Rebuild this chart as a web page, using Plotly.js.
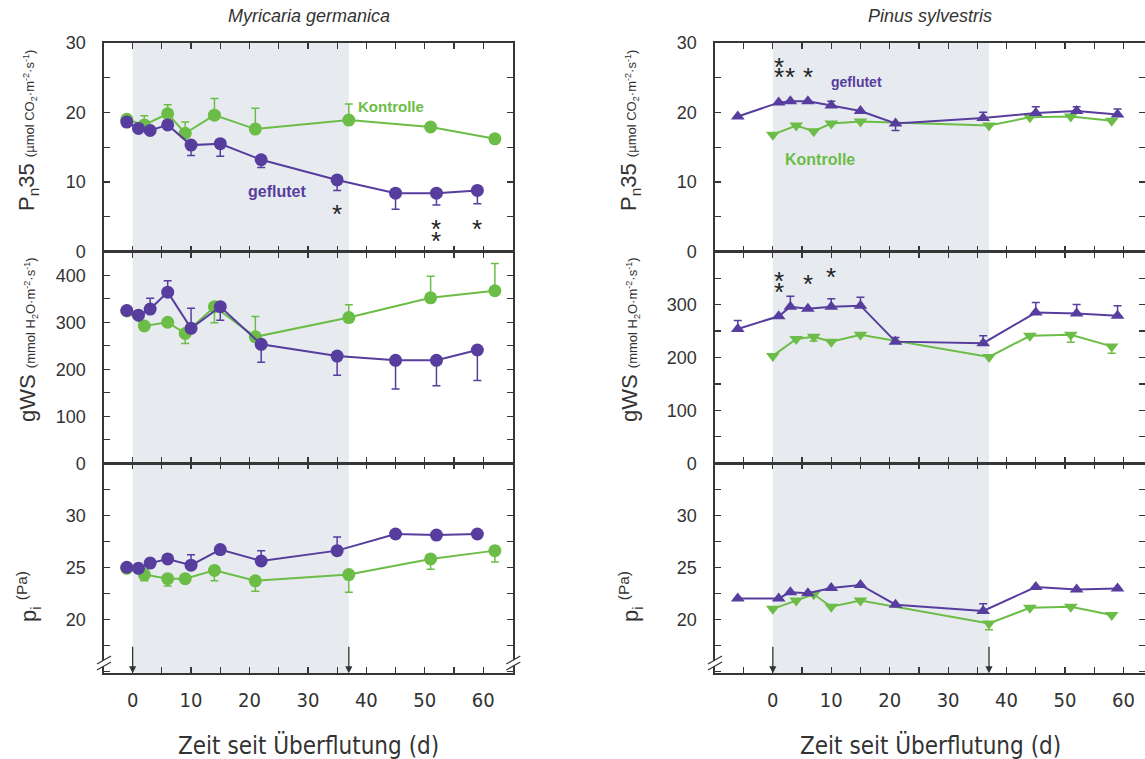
<!DOCTYPE html>
<html>
<head>
<meta charset="utf-8">
<script src="https://cdn.plot.ly/plotly-3.0.1.min.js"></script>
<style>
html,body{margin:0;padding:0;background:#fff;}
#chart{width:1145px;height:759px;}
</style>
</head>
<body>
<div id="chart"></div>
<script>
// ---------------- DATA ----------------
// Myricaria germanica (left column)
const mgDaysFlooded = [-1, 1, 3, 6, 10, 15, 22, 35, 45, 52, 59];
const mgDaysControl = [-1, 2, 6, 9, 14, 21, 37, 51, 62];

const mgPnFlooded      = [18.6, 17.7, 17.4, 18.2, 15.3, 15.5, 13.2, 10.3, 8.4, 8.4, 8.8];
const mgPnFloodedUp    = [0, 0, 0, 0, 0, 0, 0, 0, 0, 0, 0];
const mgPnFloodedDown  = [0, 0, 0.4, 0, 1.5, 1.8, 1.1, 1.5, 2.3, 1.7, 1.9];
const mgPnControl      = [19.0, 18.2, 19.8, 17.0, 19.6, 17.6, 18.9, 17.9, 16.2];
const mgPnControlUp    = [0, 1.3, 1.3, 1.6, 2.4, 3.0, 2.3, 0, 0];
const mgPnControlDown  = [0, 0, 0, 0, 0, 0, 0, 0, 0];

const mgGwsFlooded     = [325, 315, 328, 364, 287, 333, 253, 228, 219, 219, 241];
const mgGwsFloodedUp   = [0, 0, 23, 24, 43, 0, 0, 0, 0, 0, 0];
const mgGwsFloodedDown = [0, 0, 0, 0, 0, 29, 38, 41, 61, 54, 65];
const mgGwsControl     = [324, 292, 300, 276, 333, 269, 310, 352, 367];
const mgGwsControlUp   = [0, 0, 0, 0, 0, 43, 27, 46, 58];
const mgGwsControlDown = [0, 0, 0, 21, 34, 0, 0, 0, 0];

const mgPiFlooded      = [25.0, 24.9, 25.4, 25.8, 25.2, 26.7, 25.6, 26.6, 28.2, 28.1, 28.2];
const mgPiFloodedUp    = [0, 0, 0, 0, 1.0, 0, 1.0, 1.3, 0, 0, 0];
const mgPiFloodedDown  = [0, 0, 0, 0, 0, 0, 0, 0, 0, 0, 0];
const mgPiControl      = [24.9, 24.3, 23.9, 23.9, 24.7, 23.7, 24.3, 25.8, 26.6];
const mgPiControlUp    = [0, 0, 0, 0, 0, 0, 0, 0, 0];
const mgPiControlDown  = [0, 0.6, 0.7, 0, 1.0, 1.0, 1.7, 1.0, 1.1];

// significance stars (Myricaria, P_n35 panel)
const mgPnStarsX = [35, 52, 52, 59];
const mgPnStarsY = [6.4, 4.3, 2.5, 4.3];

// Pinus sylvestris (right column)
const psDaysFlooded = [-6, 1, 3, 6, 10, 15, 21, 36, 45, 52, 59];
const psDaysControl = [0, 4, 7, 10, 15, 37, 44, 51, 58];

const psPnFlooded      = [19.4, 21.4, 21.6, 21.6, 21.0, 20.2, 18.4, 19.2, 19.9, 20.2, 19.7];
const psPnFloodedUp    = [0, 0, 0, 0, 0.6, 0, 0, 0.8, 0.9, 0.6, 0.8];
const psPnFloodedDown  = [0, 0, 0, 0, 0, 0, 1.0, 0, 0, 0, 0];
const psPnControl      = [16.8, 18.1, 17.3, 18.4, 18.7, 18.1, 19.3, 19.4, 18.8];
const psPnControlUp    = [0, 0, 0, 0, 0, 0, 0, 0, 0];
const psPnControlDown  = [0, 0, 0, 0, 0, 0, 0, 0, 0];

const psGwsFlooded     = [254, 278, 296, 292, 296, 298, 230, 227, 285, 283, 279];
const psGwsFloodedUp   = [16, 0, 20, 0, 15, 16, 8, 14, 19, 17, 19];
const psGwsFloodedDown = [0, 0, 0, 0, 0, 0, 0, 0, 0, 0, 0];
const psGwsControl     = [203, 235, 239, 230, 243, 201, 241, 243, 221];
const psGwsControlUp   = [0, 0, 0, 0, 0, 0, 0, 0, 0];
const psGwsControlDown = [0, 0, 8, 0, 0, 0, 0, 14, 13];

const psPiFlooded      = [22.0, 22.0, 22.6, 22.5, 23.0, 23.3, 21.4, 20.8, 23.1, 22.85, 22.95];
const psPiFloodedUp    = [0, 0, 0, 0, 0, 0, 0, 0.7, 0, 0, 0];
const psPiFloodedDown  = [0, 0, 0, 0, 0, 0, 0, 0, 0, 0, 0];
const psPiControl      = [21.0, 21.8, 22.4, 21.2, 21.8, 19.6, 21.1, 21.2, 20.4];
const psPiControlUp    = [0, 0, 0, 0, 0, 0, 0, 0, 0];
const psPiControlDown  = [0, 0, 0, 0, 0, 0.6, 0, 0, 0];

// significance stars (Pinus)
const psPnStarsX  = [1, 1, 3, 6];
const psPnStarsY  = [27.5, 26.1, 26.1, 26.1];
const psGwsStarsX = [1, 1, 6, 10];
const psGwsStarsY = [357, 338, 352, 366];

// flooding period (days)
const floodStart = 0;
const floodEnd = 37;

// tick labels
const xTickVals = [0, 10, 20, 30, 40, 50, 60];
const pnTickVals = [0, 10, 20, 30];
const mgGwsTickVals = [0, 100, 200, 300, 400];
const psGwsTickVals = [0, 100, 200, 300];
const piTickVals = [20, 25, 30];

const speciesTitles = ['Myricaria germanica', 'Pinus sylvestris'];
const xTitle = 'Zeit seit Überflutung (d)';
const labelFlooded = 'geflutet';
const labelControl = 'Kontrolle';

// ---------------- STYLE / LAYOUT ----------------
const W = 1145, H = 759;
const px = x => x / W;
const py = y => 1 - y / H;
const PURPLE = '#573d9e';
const GREEN = '#6cbd47';
const AX = '#363636';
const SHADE = '#e7ebef';
const BASEFONT = 'Liberation Sans, Arial, Helvetica, sans-serif';
const NARROW = 'Liberation Sans Narrow, Arial Narrow, DejaVu Sans Condensed, Liberation Sans, sans-serif';

const xDomL = [px(104), px(513.3)];
const xDomR = [px(715), 1];
const xRangeL = [-4.9, 65.15];
const xRangeR = [-9.9, 63.7];
const yDomTop = [py(251.7), py(42.7)];
const yDomMid = [py(463.3), py(251.7)];
const yDomBot = [py(673.3), py(463.3)];

function series(x, y, up, down, color, symbol, size, xa, ya) {
  return {
    type: 'scatter', mode: 'lines+markers', x: x, y: y, xaxis: xa, yaxis: ya,
    line: {color: color, width: 2},
    marker: {color: color, symbol: symbol, size: size, line: {width: 0}},
    error_y: {type: 'data', symmetric: false, array: up, arrayminus: down,
              color: color, thickness: 1.5, width: 4},
    hoverinfo: 'x+y', showlegend: false
  };
}

const traces = [
  series(mgDaysControl, mgPnControl, mgPnControlUp, mgPnControlDown, GREEN, 'circle', 13, 'x', 'y'),
  series(mgDaysFlooded, mgPnFlooded, mgPnFloodedUp, mgPnFloodedDown, PURPLE, 'circle', 13, 'x', 'y'),
  series(mgDaysControl, mgGwsControl, mgGwsControlUp, mgGwsControlDown, GREEN, 'circle', 13, 'x2', 'y2'),
  series(mgDaysFlooded, mgGwsFlooded, mgGwsFloodedUp, mgGwsFloodedDown, PURPLE, 'circle', 13, 'x2', 'y2'),
  series(mgDaysControl, mgPiControl, mgPiControlUp, mgPiControlDown, GREEN, 'circle', 13, 'x3', 'y3'),
  series(mgDaysFlooded, mgPiFlooded, mgPiFloodedUp, mgPiFloodedDown, PURPLE, 'circle', 13, 'x3', 'y3'),
  series(psDaysControl, psPnControl, psPnControlUp, psPnControlDown, GREEN, 'triangle-down', 12, 'x4', 'y4'),
  series(psDaysFlooded, psPnFlooded, psPnFloodedUp, psPnFloodedDown, PURPLE, 'triangle-up', 12, 'x4', 'y4'),
  series(psDaysControl, psGwsControl, psGwsControlUp, psGwsControlDown, GREEN, 'triangle-down', 12, 'x5', 'y5'),
  series(psDaysFlooded, psGwsFlooded, psGwsFloodedUp, psGwsFloodedDown, PURPLE, 'triangle-up', 12, 'x5', 'y5'),
  series(psDaysControl, psPiControl, psPiControlUp, psPiControlDown, GREEN, 'triangle-down', 12, 'x6', 'y6'),
  series(psDaysFlooded, psPiFlooded, psPiFloodedUp, psPiFloodedDown, PURPLE, 'triangle-up', 12, 'x6', 'y6')
];

function xax(domain, range, anchor, showLabels) {
  return {
    domain: domain, range: range, anchor: anchor,
    showline: true, linecolor: AX, linewidth: 1.6, mirror: 'ticks',
    ticks: 'inside', ticklen: 6, tickwidth: 1.2, tickcolor: AX,
    tickmode: 'array', tickvals: xTickVals, showticklabels: showLabels,
    tickfont: {family: NARROW, size: 20, color: '#333'},
    ticklabelstandoff: 8,
    minor: {tickmode: 'linear', tick0: 0, dtick: 5, ticks: 'inside', ticklen: 6,
            tickwidth: 1.2, tickcolor: AX, showgrid: false},
    showgrid: false, zeroline: false, fixedrange: true
  };
}
function yax(domain, range, anchor, tickvals, minorDtick, minorTick0) {
  return {
    domain: domain, range: range, anchor: anchor,
    showline: true, linecolor: AX, linewidth: 1.6, mirror: 'ticks',
    ticks: 'inside', ticklen: 6, tickwidth: 1.2, tickcolor: AX,
    tickmode: 'array', tickvals: tickvals,
    tickfont: {family: BASEFONT, size: 18, color: '#333'},
    ticklabelstandoff: 13,
    minor: {tickmode: 'linear', tick0: minorTick0, dtick: minorDtick, ticks: 'inside',
            ticklen: 6, tickwidth: 1.2, tickcolor: AX, showgrid: false},
    showgrid: false, zeroline: false, fixedrange: true
  };
}

const annotations = [];
// species titles
annotations.push({xref: 'paper', yref: 'paper', x: (xDomL[0] + xDomL[1]) / 2, y: py(16),
  text: '<i>' + speciesTitles[0] + '</i>', showarrow: false,
  font: {family: BASEFONT, size: 18, color: '#333'}, xanchor: 'center', yanchor: 'middle'});
annotations.push({xref: 'paper', yref: 'paper', x: (xDomR[0] + 1) / 2, y: py(16),
  text: '<i>' + speciesTitles[1] + '</i>', showarrow: false,
  font: {family: BASEFONT, size: 18, color: '#333'}, xanchor: 'center', yanchor: 'middle'});
// x titles
[(xDomL[0] + xDomL[1]) / 2, (xDomR[0] + 1) / 2].forEach(function (cx) {
  annotations.push({xref: 'paper', yref: 'paper', x: cx, y: py(745), text: xTitle,
    showarrow: false, font: {family: NARROW, size: 24, color: '#333'},
    xanchor: 'center', yanchor: 'middle'});
});
// y titles
const unitSpan = function (s) { return "<span style='font-size:13px'>" + s + '</span>'; };
const yTitlePn = 'P<sub>n</sub>35 ' + unitSpan('(µmol CO<sub>2</sub>·m<sup>-2</sup>·s<sup>-1</sup>)');
const yTitleGws = 'gWS ' + unitSpan('(mmol H<sub>2</sub>O·m<sup>-2</sup>·s<sup>-1</sup>)');
const yTitlePi = 'p<sub>i</sub> <sup>(Pa)</sup>';
[28, 630].forEach(function (xpix) {
  const cx = px(xpix);
  [[yTitlePn, 131], [yTitleGws, 340], [yTitlePi, 597]].forEach(function (t) {
    annotations.push({xref: 'paper', yref: 'paper', x: cx, y: py(t[1]), text: t[0],
      textangle: -90, showarrow: false, font: {family: BASEFONT, size: 22, color: '#333'},
      xanchor: 'center', yanchor: 'middle'});
  });
});
// series labels
annotations.push({xref: 'x', yref: 'y', x: 44.2, y: 20.8, text: '<b>' + labelControl + '</b>',
  showarrow: false, font: {family: BASEFONT, size: 15, color: GREEN}});
annotations.push({xref: 'x', yref: 'y', x: 24.7, y: 8.7, text: '<b>' + labelFlooded + '</b>',
  showarrow: false, font: {family: BASEFONT, size: 16, color: PURPLE}});
annotations.push({xref: 'x4', yref: 'y4', x: 14.4, y: 24.4, text: '<b>' + labelFlooded + '</b>',
  showarrow: false, font: {family: BASEFONT, size: 14, color: PURPLE}});
annotations.push({xref: 'x4', yref: 'y4', x: 8.1, y: 13.3, text: '<b>' + labelControl + '</b>',
  showarrow: false, font: {family: BASEFONT, size: 16, color: GREEN}});
// stars
function stars(xs, ys, xa, ya) {
  xs.forEach(function (xv, i) {
    annotations.push({xref: xa, yref: ya, x: xv, y: ys[i], text: '*', showarrow: false,
      yshift: -7, font: {family: BASEFONT, size: 26, color: '#222'}});
  });
}
stars(mgPnStarsX, mgPnStarsY, 'x', 'y');
stars(psPnStarsX, psPnStarsY, 'x4', 'y4');
stars(psGwsStarsX, psGwsStarsY, 'x5', 'y5');
// flood start/end arrows
[['x3', 'y3', 14.8], ['x6', 'y6', 14.8]].forEach(function (a) {
  [floodStart, floodEnd].forEach(function (d) {
    annotations.push({xref: a[0], yref: a[1], x: d, y: a[2], ax: 0, ay: -28, text: '',
      showarrow: true, arrowhead: 2, arrowsize: 1.1, arrowwidth: 1.3, arrowcolor: '#333'});
  });
});

// shapes: flooding shading + axis breaks
const shapes = [];
[['x3', xDomL], ['x6', xDomR]].forEach(function (s) {
  shapes.push({type: 'rect', xref: s[0], yref: 'paper', x0: floodStart, x1: floodEnd,
    y0: yDomBot[0], y1: yDomTop[1], fillcolor: SHADE, line: {width: 0}, layer: 'below'});
});
function axisBreak(xp, yp) {
  shapes.push({type: 'line', xref: 'paper', yref: 'paper', x0: px(xp - 7), y0: py(yp + 4),
    x1: px(xp + 7), y1: py(yp - 4), line: {color: '#fff', width: 5}, layer: 'above'});
  [-3, 3].forEach(function (o) {
    shapes.push({type: 'line', xref: 'paper', yref: 'paper', x0: px(xp - 7), y0: py(yp + 4 + o),
      x1: px(xp + 7), y1: py(yp - 4 + o), line: {color: AX, width: 1.2}, layer: 'above'});
  });
}
axisBreak(104, 663);
axisBreak(513.3, 663);
axisBreak(715, 663);

const layout = {
  width: W, height: H,
  margin: {l: 0, r: 0, t: 0, b: 0},
  paper_bgcolor: '#fff', plot_bgcolor: 'rgba(0,0,0,0)',
  font: {family: BASEFONT, color: '#333'},
  showlegend: false,
  xaxis:  xax(xDomL, xRangeL, 'y', false),
  xaxis2: xax(xDomL, xRangeL, 'y2', false),
  xaxis3: xax(xDomL, xRangeL, 'y3', true),
  xaxis4: xax(xDomR, xRangeR, 'y4', false),
  xaxis5: xax(xDomR, xRangeR, 'y5', false),
  xaxis6: xax(xDomR, xRangeR, 'y6', true),
  yaxis:  yax(yDomTop, [0, 30], 'x', pnTickVals, 5, 0),
  yaxis2: yax(yDomMid, [0, 450], 'x2', mgGwsTickVals, 50, 0),
  yaxis3: yax(yDomBot, [14.8, 35], 'x3', piTickVals, 2.5, 0),
  yaxis4: yax(yDomTop, [0, 30], 'x4', pnTickVals, 5, 0),
  yaxis5: yax(yDomMid, [0, 400], 'x5', psGwsTickVals, 50, 0),
  yaxis6: yax(yDomBot, [14.8, 35], 'x6', piTickVals, 2.5, 0),
  annotations: annotations,
  shapes: shapes
};

Plotly.newPlot('chart', traces, layout, {displayModeBar: false, staticPlot: true});
</script>
</body>
</html>
